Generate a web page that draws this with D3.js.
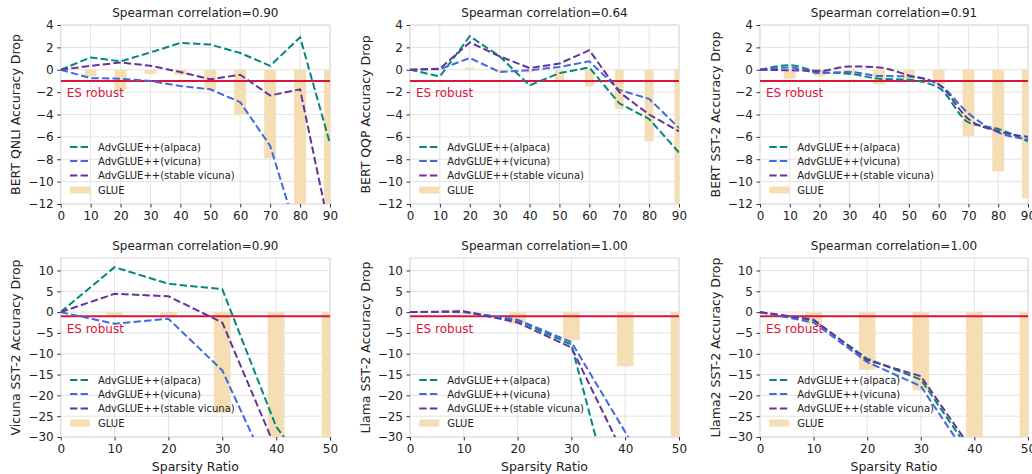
<!DOCTYPE html>
<html>
<head>
<meta charset="utf-8">
<script src="https://cdn.jsdelivr.net/npm/d3@7"></script>
<style>
  html, body { margin: 0; padding: 0; background: #fff; }
  svg { display: block; font-family: "DejaVu Sans", sans-serif; }
</style>
</head>
<body>
<svg id="chart" width="1032" height="474"></svg>
<script>
// Sparsity levels
const sparsityBert = [0, 10, 20, 30, 40, 50, 60, 70, 80, 90];
const sparsityLlm = [0, 10, 20, 30, 40, 50];

// BERT QNLI
const qnliAlpaca = [0, 1.1, 0.75, 1.55, 2.4, 2.25, 1.5, 0.35, 2.9, -6.6];
const qnliVicuna = [0, -0.75, -0.8, -1.0, -1.45, -1.75, -2.9, -6.8, -15.5, -22];
const qnliStable = [0, 0.35, 0.65, 0.35, -0.2, -0.85, -0.45, -2.3, -1.75, -14.5];
const qnliGlue = [0, -0.6, -1.8, -0.4, -0.45, -1.8, -4.0, -7.9, -13, -14];

// BERT QQP
const qqpAlpaca = [0, -0.6, 3.0, 1.2, -1.4, -0.3, 0.2, -3.0, -4.4, -7.4];
const qqpVicuna = [0, 0.05, 1.05, -0.2, -0.05, 0.25, 0.75, -1.8, -2.6, -5.2];
const qqpStable = [0, 0.1, 2.45, 1.2, 0.15, 0.55, 1.75, -2.0, -4.0, -5.5];
const qqpGlue = [0, 0, 0.2, -0.25, -0.25, -0.9, -1.5, -3.5, -6.4, -13];

// BERT SST-2
const bertSstAlpaca = [0, 0.4, -0.2, -0.35, -0.8, -0.9, -1.6, -4.7, -5.3, -6.4];
const bertSstVicuna = [0, 0.2, -0.3, -0.2, -0.55, -0.6, -1.3, -3.9, -5.6, -6.2];
const bertSstStable = [0, -0.05, -0.1, 0.3, 0.2, -0.5, -1.3, -4.4, -5.5, -6.0];
const bertSstGlue = [0, -0.8, -0.6, -0.5, -1.3, -0.9, -1.3, -5.9, -9.1, -11.5];

// Vicuna SST-2
const vicunaSstAlpaca = [0, 10.8, 6.8, 5.5, -27.5, -45];
const vicunaSstVicuna = [0, -2.8, -1.6, -14, -42, -60];
const vicunaSstStable = [0, 4.4, 3.8, -2.5, -33, -50];
const vicunaSstGlue = [0, -0.8, -1.3, -24.2, -35, -40];

// Llama SST-2
const llamaSstAlpaca = [0, 0, -2.0, -7.8, -57, -70];
const llamaSstVicuna = [0, 0.1, -1.8, -7.2, -28.8, -50];
const llamaSstStable = [0, 0.2, -2.5, -8.5, -35, -55];
const llamaSstGlue = [0, -0.5, -2.8, -6.8, -13, -40];

// Llama2 SST-2
const llama2SstAlpaca = [0, -2.0, -11.2, -16.2, -35, -50];
const llama2SstVicuna = [0, -2.5, -12, -17.8, -37, -52];
const llama2SstStable = [0, -1.8, -11.5, -15.4, -33.9, -48];
const llama2SstGlue = [0, -3.0, -13.8, -18.8, -35, -40];

// Panel texts
const titles = ["Spearman correlation=0.90", "Spearman correlation=0.64", "Spearman correlation=0.91",
                "Spearman correlation=0.90", "Spearman correlation=1.00", "Spearman correlation=1.00"];
const yLabels = ["BERT QNLI Accuracy Drop", "BERT QQP Accuracy Drop", "BERT SST-2 Accuracy Drop",
                 "Vicuna SST-2 Accuracy Drop", "Llama SST-2 Accuracy Drop", "Llama2 SST-2 Accuracy Drop"];
const seriesNames = ["AdvGLUE++(alpaca)", "AdvGLUE++(vicuna)", "AdvGLUE++(stable vicuna)"];
const glueName = "GLUE";
const xLabel = "Sparsity Ratio";
const robustLabel = "ES robust";
const robustThreshold = -1;

const bertXTicks = [0, 10, 20, 30, 40, 50, 60, 70, 80, 90];
const llmXTicks = [0, 10, 20, 30, 40, 50];
const bertYTicks = [-12, -10, -8, -6, -4, -2, 0, 2, 4];
const llmYTicks = [-30, -25, -20, -15, -10, -5, 0, 5, 10];

// Styling
const seriesColors = ["#00897b", "#4169e1", "#663399"];
const glueColor = "#f5deb3";
const robustColor = "#dc143c";
const gridColor = "#e3e3e3";

const panels = [
  { x: sparsityBert, series: [qnliAlpaca, qnliVicuna, qnliStable], glue: qnliGlue, barW: 4, curve: d3.curveLinear },
  { x: sparsityBert, series: [qqpAlpaca, qqpVicuna, qqpStable], glue: qqpGlue, barW: 3, curve: d3.curveLinear },
  { x: sparsityBert, series: [bertSstAlpaca, bertSstVicuna, bertSstStable], glue: bertSstGlue, barW: 4, curve: d3.curveMonotoneX },
  { x: sparsityLlm, series: [vicunaSstAlpaca, vicunaSstVicuna, vicunaSstStable], glue: vicunaSstGlue, barW: 3.1, curve: d3.curveLinear },
  { x: sparsityLlm, series: [llamaSstAlpaca, llamaSstVicuna, llamaSstStable], glue: llamaSstGlue, barW: 3.1, curve: d3.curveLinear },
  { x: sparsityLlm, series: [llama2SstAlpaca, llama2SstVicuna, llama2SstStable], glue: llama2SstGlue, barW: 3.1, curve: d3.curveLinear }
];

const colBounds = [[60.7, 330], [410, 679], [760, 1028]];
const rowDefs = [
  { top: 25, bottom: 204, yDomain: [-12, 4], yTicks: bertYTicks, xDomain: [0, 90], xTicks: bertXTicks, showXLabel: false },
  { top: 258, bottom: 437, yDomain: [-30, 13], yTicks: llmYTicks, xDomain: [0, 50], xTicks: llmXTicks, showXLabel: true }
];

const svg = d3.select("#chart");
const fmt = d3.format("d");

panels.forEach((p, i) => {
  const row = rowDefs[Math.floor(i / 3)];
  const [x0, x1] = colBounds[i % 3];
  const xs = d3.scaleLinear().domain(row.xDomain).range([x0, x1]);
  const ys = d3.scaleLinear().domain(row.yDomain).range([row.bottom, row.top]);
  const g = svg.append("g");

  const clipId = "clip" + i;
  svg.append("clipPath").attr("id", clipId)
    .append("rect").attr("x", x0).attr("y", row.top)
    .attr("width", x1 - x0).attr("height", row.bottom - row.top);

  // grid
  g.append("g").selectAll("line").data(row.xTicks).join("line")
    .attr("x1", d => xs(d)).attr("x2", d => xs(d))
    .attr("y1", row.top).attr("y2", row.bottom)
    .attr("stroke", gridColor).attr("stroke-width", 1);
  g.append("g").selectAll("line").data(row.yTicks).join("line")
    .attr("x1", x0).attr("x2", x1)
    .attr("y1", d => ys(d)).attr("y2", d => ys(d))
    .attr("stroke", gridColor).attr("stroke-width", 1);
  g.append("rect").attr("x", x0).attr("y", row.top)
    .attr("width", x1 - x0).attr("height", row.bottom - row.top)
    .attr("fill", "none").attr("stroke", "#dcdcdc").attr("stroke-width", 1);

  const plot = g.append("g").attr("clip-path", `url(#${clipId})`);

  // GLUE bars
  plot.append("g").selectAll("rect").data(p.x.map((s, k) => ({ s, v: p.glue[k] })).filter(d => d.v !== 0)).join("rect")
    .attr("x", d => xs(d.s - p.barW / 2))
    .attr("width", d => xs(d.s + p.barW / 2) - xs(d.s - p.barW / 2))
    .attr("y", d => ys(Math.max(0, d.v)))
    .attr("height", d => Math.abs(ys(d.v) - ys(0)))
    .attr("fill", glueColor);

  // robustness threshold
  plot.append("line")
    .attr("x1", xs(row.xDomain[0])).attr("x2", xs(p.x[p.x.length - 1]))
    .attr("y1", ys(robustThreshold)).attr("y2", ys(robustThreshold))
    .attr("stroke", robustColor).attr("stroke-width", 2);

  // AdvGLUE++ lines
  const line = d3.line().x(d => xs(d[0])).y(d => ys(d[1])).curve(p.curve);
  p.series.forEach((vals, k) => {
    plot.append("path")
      .datum(p.x.map((s, j) => [s, vals[j]]))
      .attr("d", line)
      .attr("fill", "none")
      .attr("stroke", seriesColors[k])
      .attr("stroke-width", 2)
      .attr("stroke-dasharray", "7.4 3.2");
  });

  // label for the threshold
  g.append("text")
    .attr("x", x0 + 6).attr("y", ys(robustThreshold) + 16.5)
    .attr("font-size", 12).attr("fill", robustColor)
    .text(robustLabel);

  // axes ticks
  const yAxis = d3.axisLeft(ys).tickValues(row.yTicks).tickFormat(fmt).tickSize(3.5).tickPadding(3.5);
  const ya = g.append("g").attr("transform", `translate(${x0},0)`).call(yAxis);
  const xAxis = d3.axisBottom(xs).tickValues(row.xTicks).tickFormat(fmt).tickSize(3.5).tickPadding(3.5);
  const xa = g.append("g").attr("transform", `translate(0,${row.bottom})`).call(xAxis);
  [ya, xa].forEach(a => {
    a.select(".domain").remove();
    a.selectAll(".tick line").attr("stroke", "#333").attr("stroke-width", 1);
    a.selectAll(".tick text").attr("font-size", 12).attr("fill", "#222")
      .attr("font-family", "DejaVu Sans, sans-serif");
  });

  // title and axis labels
  g.append("text")
    .attr("x", (x0 + x1) / 2).attr("y", row.top - 8)
    .attr("text-anchor", "middle").attr("font-size", 12).attr("fill", "#222")
    .text(titles[i]);
  g.append("text")
    .attr("transform", `translate(${x0 - 45},${(row.top + row.bottom) / 2}) rotate(-90)`)
    .attr("text-anchor", "middle").attr("dominant-baseline", "central")
    .attr("font-size", 12.5).attr("fill", "#222")
    .text(yLabels[i]);
  if (row.showXLabel) {
    g.append("text")
      .attr("x", (x0 + x1) / 2).attr("y", 471)
      .attr("text-anchor", "middle").attr("font-size", 12.5).attr("fill", "#222")
      .text(xLabel);
  }

  // legend
  const lg = g.append("g");
  const rowOffsets = [57, 43, 28.5, 14];
  seriesNames.forEach((name, k) => {
    const cy = row.bottom - rowOffsets[k];
    lg.append("line").attr("x1", x0 + 9.3).attr("x2", x0 + 29.3).attr("y1", cy).attr("y2", cy)
      .attr("stroke", seriesColors[k]).attr("stroke-width", 2).attr("stroke-dasharray", "7.4 3.2");
    lg.append("text").attr("x", x0 + 37.3).attr("y", cy).attr("dominant-baseline", "central")
      .attr("font-size", 10).attr("fill", "#222").text(name);
  });
  const gy = row.bottom - rowOffsets[3];
  lg.append("rect").attr("x", x0 + 9.3).attr("y", gy - 3.5).attr("width", 20).attr("height", 7).attr("fill", glueColor);
  lg.append("text").attr("x", x0 + 37.3).attr("y", gy).attr("dominant-baseline", "central")
    .attr("font-size", 10).attr("fill", "#222").text(glueName);
});
</script>
</body>
</html>
